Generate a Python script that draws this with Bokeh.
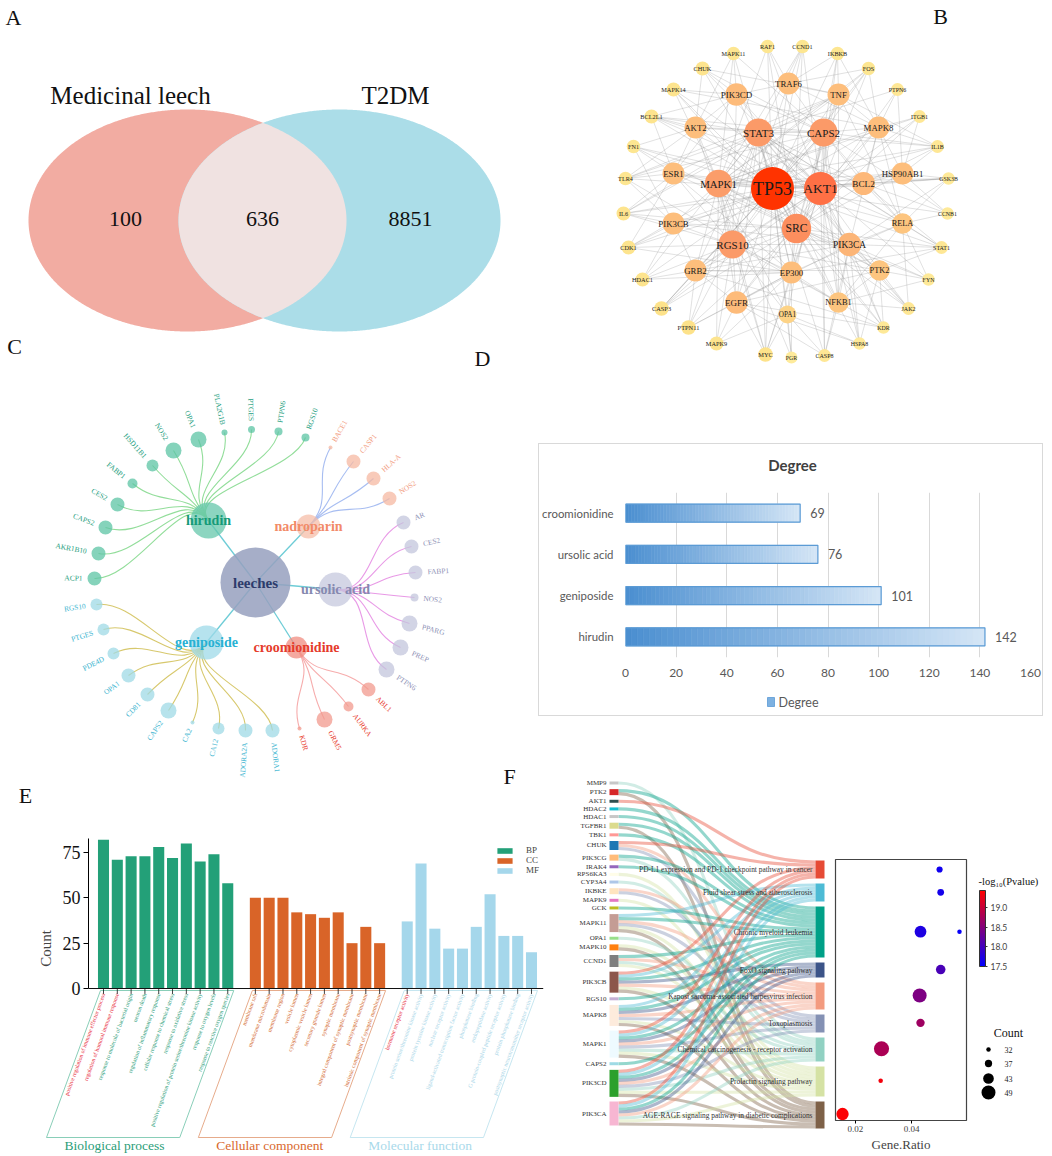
import numpy as np
from bokeh.plotting import figure
from bokeh.models import (Range1d, FactorRange, LinearAxis, Legend, LegendItem,
                          LinearColorMapper, ColorBar, FixedTicker, PrintfTickFormatter)
from bokeh.core.properties import value
from bokeh.embed import file_html
from bokeh.resources import INLINE

SERIF = "Liberation Serif"
SANS = "Lato"

# ======================= DATA =======================
# A - Venn
venn_sets = ["Medicinal leech", "T2DM"]
venn_counts = [100, 636, 8851]          # leech only, shared, T2DM only

# B - PPI network
ppi_nodes = ["RAF1", "CCND1", "MAPK11", "IKBKB", "CHUK", "FOS", "MAPK14", "PTPN6",
             "TRAF6", "PIK3CD", "TNF", "BCL2L1", "ITGB1", "AKT2", "STAT3", "CAPS2",
             "MAPK8", "FN1", "IL1B", "ESR1", "HSP90AB1", "TLR4", "GSK3B", "MAPK1",
             "TP53", "AKT1", "BCL2", "IL6", "CCNB1", "PIK3CB", "SRC", "RELA", "CDK1",
             "STAT1", "RGS10", "PIK3CA", "HDAC1", "FYN", "GRB2", "EP300", "PTK2",
             "CASP3", "JAK2", "EGFR", "NFKB1", "OPA1", "PTPN11", "KDR", "MAPK9",
             "HSPA8", "MYC", "PGR", "CASP8"]
ppi_degree = [18, 18, 18, 18, 19, 18, 19, 17,
              33, 34, 33, 19, 17, 33, 45, 45,
              33, 18, 17, 33, 33, 18, 16, 44,
              60, 52, 35, 19, 16, 33, 47, 31, 19,
              17, 45, 36, 19, 16, 33, 33, 31,
              20, 17, 34, 31, 27, 20, 16, 19,
              16, 20, 15, 17]
ppi_layout_x = [767, 802, 733, 837, 702, 868, 673, 897,
                788, 736, 838, 651, 919, 695, 758, 823,
                878, 633, 937, 673, 902, 625, 948, 718,
                772, 820, 863, 623, 947, 673, 796, 902, 628,
                941, 732, 849, 642, 928, 695, 791, 879,
                661, 908, 736, 838, 787, 688, 883, 716,
                859, 765, 791, 824]
ppi_layout_y = [46, 46, 53, 53, 68, 68, 89, 89,
                83, 94, 94, 116, 116, 127, 132, 132,
                127, 146, 146, 173, 173, 178, 178, 183,
                188, 188, 183, 213, 213, 223, 228, 223, 247,
                247, 244, 244, 279, 279, 270, 272, 270,
                308, 308, 302, 302, 314, 327, 327, 343,
                343, 354, 357, 355]
ppi_links = {
    "TP53": "AKT1 SRC STAT3 CAPS2 MAPK1 RGS10 EP300 ESR1 BCL2 PIK3CA PIK3CB MAPK8 TNF TRAF6 AKT2 GRB2 PTK2 EGFR NFKB1 HSP90AB1 RELA OPA1 RAF1 CCND1 MAPK11 IKBKB CHUK FOS MAPK14 BCL2L1 IL1B IL6 CDK1 CCNB1 STAT1 HDAC1 CASP3 JAK2 MYC CASP8 KDR FN1 GSK3B TLR4 HSPA8 PGR",
    "AKT1": "SRC STAT3 CAPS2 MAPK1 RGS10 PIK3CA PIK3CB PIK3CD MAPK8 TNF ESR1 BCL2 GRB2 EGFR NFKB1 HSP90AB1 RELA EP300 RAF1 CCND1 IKBKB CHUK FOS BCL2L1 GSK3B IL6 CDK1 CASP3 MYC CASP8 KDR PTK2 ITGB1 FN1 MAPK14 HSPA8",
    "SRC": "STAT3 CAPS2 MAPK1 RGS10 PIK3CA PIK3CB PIK3CD EGFR GRB2 PTK2 ESR1 EP300 BCL2 JAK2 FYN PTPN11 PTPN6 ITGB1 KDR FN1 STAT1 MAPK8 HSP90AB1 CASP3 TNF RAF1 MAPK14 IL6",
    "STAT3": "CAPS2 MAPK1 RGS10 EP300 JAK2 STAT1 IL6 EGFR RELA NFKB1 TNF CCND1 MYC BCL2 BCL2L1 PTPN11 PTPN6 FYN HDAC1 ESR1 PIK3CA IL1B TLR4 GRB2 AKT2",
    "CAPS2": "MAPK1 RGS10 CASP3 CASP8 BCL2 BCL2L1 TNF NFKB1 RELA MAPK8 TRAF6 CHUK IKBKB IL1B TLR4 FOS PIK3CD AKT2 HSPA8 MAPK11 CCNB1 CDK1 EP300 OPA1",
    "MAPK1": "RGS10 RAF1 MAPK8 MAPK14 MAPK11 MAPK9 FOS MYC EGFR GRB2 PTK2 EP300 ESR1 CCND1 ITGB1 TNF IL1B PIK3CB PIK3CA GSK3B HSP90AB1 AKT2 PGR OPA1",
    "RGS10": "PIK3CA PIK3CB PIK3CD GRB2 EP300 EGFR NFKB1 OPA1 PTK2 HDAC1 CDK1 CASP3 PTPN11 MAPK9 MYC TRAF6 AKT2 ESR1 IL6",
    "PIK3CA": "PIK3CB PIK3CD EGFR KDR PTK2 GRB2 NFKB1 RELA JAK2 FYN HSPA8 CASP8 STAT1 MAPK8 GSK3B",
    "EP300": "HDAC1 ESR1 MYC NFKB1 RELA PGR STAT1 CCND1 CDK1 OPA1 EGFR GRB2 PTPN11 MAPK9",
    "MAPK8": "TNF FOS IL1B TRAF6 MAPK14 PTPN6 ITGB1 HSP90AB1 BCL2 RELA IKBKB",
    "TNF": "TRAF6 IL1B NFKB1 RELA CHUK IKBKB IL6 TLR4 FOS",
    "PIK3CD": "AKT2 TRAF6 MAPK11 CHUK BCL2L1 ESR1 MAPK14",
    "GRB2": "EGFR PTK2 PTPN11 KDR CASP3 HDAC1 PIK3CB",
    "EGFR": "PTK2 PTPN11 KDR MYC MAPK9 HSPA8 CASP8",
    "NFKB1": "RELA TLR4 CASP8 JAK2 KDR FYN PTK2",
    "BCL2": "BCL2L1 CCNB1 GSK3B IL1B RELA STAT1 HSP90AB1",
    "HSP90AB1": "ITGB1 IL1B GSK3B CCNB1 PTPN6",
    "AKT2": "BCL2L1 FN1 TLR4 CHUK MAPK11 ESR1",
    "ESR1": "FN1 TLR4 IL6 CDK1 BCL2L1",
    "PIK3CB": "IL6 CDK1 TLR4 HDAC1 FN1",
    "RELA": "STAT1 CCNB1 FYN JAK2 GSK3B",
    "PTK2": "FYN JAK2 KDR HSPA8 STAT1",
    "TRAF6": "RAF1 CCND1 IKBKB FOS",
    "OPA1": "MYC PGR CASP8 MAPK9 HSPA8",
}

# C - compound / target tree
tree_root = "leeches"
tree_compounds = ["hirudin", "nadroparin", "ursolic acid", "geniposide", "croomionidine"]
tree_targets = {
    "hirudin": ["RGS10", "PTPN6", "PTGES", "PLA2G1B", "OPA1", "NOS2", "HSD11B1",
                "FABP1", "CES2", "CAPS2", "AKR1B10", "ACP1"],
    "nadroparin": ["BACE1", "CASP1", "HLA-A", "NOS2"],
    "ursolic acid": ["AR", "CES2", "FABP1", "NOS2", "PPARG", "PREP", "PTPN6"],
    "geniposide": ["RGS10", "PTGES", "PDE4D", "OPA1", "CD81", "CAPS2", "CA2", "CA12",
                   "ADORA2A", "ADORA1"],
    "croomionidine": ["ABL1", "AURKA", "GRM5", "KDR"],
}
tree_target_weight = {
    "hirudin": [4, 4, 3.5, 3, 8, 8, 6, 5, 7, 7, 7, 7],
    "nadroparin": [2, 7, 7, 7],
    "ursolic acid": [7, 7, 7, 4, 8, 8, 8],
    "geniposide": [6, 6, 6, 7, 7, 8, 2, 6, 7, 7],
    "croomionidine": [7, 5, 8, 2],
}
tree_layout_root = (255, 582)
tree_layout_comp = {"hirudin": (208, 520), "nadroparin": (308, 526), "ursolic acid": (335, 589),
                    "geniposide": (206, 642), "croomionidine": (296, 647)}
tree_comp_radius = {"hirudin": 18, "nadroparin": 12, "ursolic acid": 17,
                    "geniposide": 17, "croomionidine": 11}
tree_layout_leaf = {
    "hirudin": [(305, 437), (278, 431), (251, 429), (224, 432), (198, 439), (173, 450),
                (152, 465), (132, 483), (117, 504), (105, 527), (98, 553), (94, 578)],
    "nadroparin": [(330, 447), (353, 461), (373, 478), (389, 498)],
    "ursolic acid": [(403, 522), (411, 546), (415, 572), (414, 597), (409, 623),
                     (400, 647), (386, 669)],
    "geniposide": [(96, 604), (103, 629), (113, 653), (128, 675), (147, 694), (168, 710),
                   (192, 722), (218, 728), (245, 730), (272, 730)],
    "croomionidine": [(368, 689), (348, 706), (324, 719), (299, 728)],
}

# D - degree
deg_compounds = ["hirudin", "geniposide", "ursolic acid", "croomionidine"]
deg_values = [142, 101, 76, 69]

# E - GO enrichment
go_bp = ["positive regulation of immune effector process",
         "regulation of humoral immune response",
         "response to molecule of bacterial origin", "neuron death",
         "regulation of inflammatory response", "cellular response to chemical stress",
         "response to oxidative stress",
         "positive regulation of protein serine/threonine kinase activity",
         "response to oxygen levels", "response to reactive oxygen species"]
go_bp_count = [82, 71, 73, 73, 78, 72, 80, 70, 74, 58]
go_cc = ["membrane raft", "membrane microdomain", "membrane region", "vesicle lumen",
         "cytoplasmic vesicle lumen", "secretory granule lumen", "synaptic membrane",
         "integral component of synaptic membrane", "postsynaptic membrane",
         "intrinsic component of synaptic membrane"]
go_cc_count = [50, 50, 50, 42, 41, 39, 42, 25, 34, 25]
go_mf = ["hormone receptor activity", "protein serine/threonine kinase activity",
         "protein tyrosine kinase activity", "nuclear receptor activity",
         "ligand-activated transcription factor activity", "phosphatase binding",
         "endopeptidase activity", "G protein-coupled peptide receptor activity",
         "protein phosphatase binding", "postsynaptic neurotransmitter receptor activity"]
go_mf_count = [37, 69, 33, 22, 22, 34, 52, 29, 29, 20]
go_highlight = ["positive regulation of immune effector process",
                "regulation of humoral immune response", "hormone receptor activity"]
go_groups = ["Biological process", "Cellular component", "Molecular function"]
go_keys = ["BP", "CC", "MF"]

# F - KEGG sankey + bubble
kegg_paths = ["PD-L1 expression and PD-1 checkpoint pathway in cancer",
              "Fluid shear stress and atherosclerosis",
              "Chronic myeloid leukemia",
              "FoxO signaling pathway",
              "Kaposi sarcoma-associated herpesvirus infection",
              "Toxoplasmosis",
              "Chemical carcinogenesis - receptor activation",
              "Prolactin signaling pathway",
              "AGE-RAGE signaling pathway in diabetic complications"]
kegg_short = ["PD-L1", "FSS", "CML", "FoxO", "KSHV", "Toxo", "Chem", "PRL", "AGE"]
sankey_genes = ["MMP9", "PTK2", "AKT1", "HDAC2", "HDAC1", "TGFBR1", "TBK1", "CHUK",
                "PIK3CG", "IRAK4", "RPS6KA3", "CYP3A4", "IKBKE", "MAPK9", "GCK",
                "MAPK11", "OPA1", "MAPK10", "CCND1", "PIK3CB", "RGS10", "MAPK8",
                "MAPK1", "CAPS2", "PIK3CD", "PIK3CA"]
sankey_links = {
    "MMP9": "Chem", "PTK2": "CML AGE", "AKT1": "PD-L1", "HDAC2": "CML", "HDAC1": "CML",
    "TGFBR1": "CML AGE", "TBK1": "CML", "CHUK": "PD-L1 KSHV Toxo", "PIK3CG": "CML Chem",
    "IRAK4": "CML", "RPS6KA3": "PRL", "CYP3A4": "Chem", "IKBKE": "KSHV Toxo",
    "MAPK9": "PRL", "GCK": "CML", "MAPK11": "FSS CML KSHV Toxo PRL AGE", "OPA1": "Chem",
    "MAPK10": "PRL AGE", "CCND1": "CML KSHV Chem PRL",
    "PIK3CB": "PD-L1 FSS CML FoxO KSHV PRL AGE", "RGS10": "CML",
    "MAPK8": "FSS CML FoxO KSHV Toxo PRL AGE",
    "MAPK1": "PD-L1 FSS CML FoxO KSHV Toxo Chem PRL AGE", "CAPS2": "CML",
    "PIK3CD": "PD-L1 FSS CML FoxO KSHV Toxo Chem PRL AGE",
    "PIK3CA": "PD-L1 FSS CML FoxO KSHV Chem PRL AGE",
}
dot_path = ["PD-L1", "FSS", "CML", "FoxO", "KSHV", "Toxo", "Chem", "PRL", "AGE", "CML"]
dot_ratio = [0.0500, 0.0504, 0.0432, 0.0504, 0.0429, 0.0432, 0.0293, 0.0290, 0.0154, 0.0571]
dot_logp = [17.62, 17.65, 17.72, 18.05, 18.45, 18.70, 18.80, 19.35, 19.42, 17.55]
dot_count = [35, 36, 45, 41, 49, 39, 51, 32, 46, 32]
count_legend = [32, 37, 43, 49]

# ======================= HELPERS =======================
def h2r(h):
    return [int(h[i:i + 2], 16) for i in (1, 3, 5)]

def r2h(c):
    return "#%02x%02x%02x" % tuple(int(round(max(0, min(255, v)))) for v in c)

def mix(c1, c2, t):
    a, b = h2r(c1), h2r(c2)
    return r2h([a[i] + (b[i] - a[i]) * t for i in range(3)])

def ramp(v, stops, cols):
    v = min(max(v, stops[0]), stops[-1])
    for i in range(len(stops) - 1):
        if v <= stops[i + 1]:
            return mix(cols[i], cols[i + 1], (v - stops[i]) / (stops[i + 1] - stops[i]))
    return cols[-1]

def absfig(x, y, w, h, extra_styles=None, **kw):
    st = {"position": "absolute", "left": "%dpx" % x, "top": "%dpx" % y}
    if extra_styles:
        st.update(extra_styles)
    p = figure(width=w, height=h, output_backend="svg", toolbar_location=None, title=None,
               styles=st, **kw)
    p.background_fill_color = None
    p.border_fill_color = None
    return p

def letter(p, x, y, s):
    p.text([x], [y], text=[s], text_font=value(SERIF), text_font_size="22px",
           text_align="center", text_baseline="middle", text_color="#111111")

# full page canvas in picture pixel coordinates (y downward)
PW, PH = 1048, 1154
pP = absfig(0, 0, PW, PH, x_range=Range1d(0, PW), y_range=Range1d(PH, 0),
            x_axis_location=None, y_axis_location=None, min_border=0)
pP.xgrid.visible = False
pP.ygrid.visible = False
pP.outline_line_color = None

# ======================= A: Venn =======================
cy, bh = 220, 111
cxa, axa = 187, 159
cxb, axb = 339, 161
t = np.linspace(0, 2 * np.pi, 721)
ea = np.c_[cxa + axa * np.cos(t), cy + bh * np.sin(t)]
eb = np.c_[cxb + axb * np.cos(t), cy + bh * np.sin(t)]
pP.patch(ea[:, 0], ea[:, 1], fill_color="#F2ACA2", line_color=None)
pP.patch(eb[:, 0], eb[:, 1], fill_color="#ABDDE8", line_color=None)
ina = ((eb[:, 0] - cxa) / axa) ** 2 + ((eb[:, 1] - cy) / bh) ** 2 <= 1
inb = ((ea[:, 0] - cxb) / axb) ** 2 + ((ea[:, 1] - cy) / bh) ** 2 <= 1
pts = np.vstack([ea[inb], eb[ina]])
cc = pts.mean(0)
pts = pts[np.argsort(np.arctan2(pts[:, 1] - cc[1], pts[:, 0] - cc[0]))]
pP.patch(pts[:, 0], pts[:, 1], fill_color="#F0E2E1", line_color=None)
pP.text([cxa - 57, cxb + 56], [95, 95], text=venn_sets, text_font=value(SERIF),
        text_font_size="25px", text_align="center", text_baseline="middle", text_color="#111111")
pP.text([125, 262, 410], [cy - 2] * 3, text=[str(v) for v in venn_counts],
        text_font=value(SERIF), text_font_size="22px", text_align="center",
        text_baseline="middle", text_color="#111111")

# ======================= B: network =======================
nid = {n: i for i, n in enumerate(ppi_nodes)}
ex0, ey0, ex1, ey1 = [], [], [], []
seen = set()
for hub, nb in ppi_links.items():
    for n in nb.split():
        k = tuple(sorted((hub, n)))
        if k in seen or n not in nid or hub == n:
            continue
        seen.add(k)
        a, b = nid[hub], nid[n]
        ex0.append(ppi_layout_x[a]); ey0.append(ppi_layout_y[a])
        ex1.append(ppi_layout_x[b]); ey1.append(ppi_layout_y[b])
pP.segment(ex0, ey0, ex1, ey1, line_color="#8f8f8f", line_alpha=0.45, line_width=0.6)
DS = [15, 20, 27, 33, 45, 52, 60]
SZ = [12, 14.5, 18, 22, 28, 33, 43]
FS = [5.8, 6.4, 7.2, 8.8, 11, 13.5, 18]
CL = ["#FEEB9C", "#FDE28A", "#FDD386", "#FDBE7C", "#FB9A68", "#FF7045", "#FF3300"]
order = np.argsort(ppi_degree)
bx = [ppi_layout_x[i] for i in order]
by = [ppi_layout_y[i] for i in order]
bd = [ppi_degree[i] for i in order]
pP.scatter(bx, by, size=[float(np.interp(d, DS, SZ)) for d in bd],
           fill_color=[ramp(d, DS, CL) for d in bd], line_color=None)
pP.text(bx, by, text=[ppi_nodes[i] for i in order],
        text_font_size=["%.1fpx" % np.interp(d, DS, FS) for d in bd],
        text_font=value(SERIF), text_align="center", text_baseline="middle",
        text_color="#1a1a1a")

# ======================= C: tree =======================
RX, RY = tree_layout_root
comp_style = {
    "hirudin": ("#66C7AB", "#86D98F", "#1E9E7E", "#159A78", "#5CC4A4"),
    "nadroparin": ("#F6BDA8", "#9DB6EF", "#F29A7C", "#F28A68", "#F6B8A2"),
    "ursolic acid": ("#C6C8DE", "#E58EE3", "#8D90B5", "#8689B0", "#C3C6DC"),
    "geniposide": ("#9DDAE8", "#D3C25D", "#3CB5D0", "#27B1D3", "#9FD9E6"),
    "croomionidine": ("#F08C80", "#F5A3A3", "#E8392B", "#E53B2C", "#F19A8D"),
}
pP.segment([RX] * 5, [RY] * 5, [tree_layout_comp[c][0] for c in tree_compounds],
           [tree_layout_comp[c][1] for c in tree_compounds], line_color="#5DC6D2",
           line_width=1.3, line_alpha=0.9)
lx_all, ly_all, lr_all, lc_all = [], [], [], []
tl_x, tl_y, tl_t, tl_a, tl_al, tl_c = [], [], [], [], [], []
for c in tree_compounds:
    cx, cyy = tree_layout_comp[c]
    circ_c, edge_c, lab_c, comp_lab_c, leaf_c = comp_style[c]
    rc = np.hypot(cx - RX, cyy - RY)
    tc = np.arctan2(cyy - RY, cx - RX)
    bx0, by0, bx1, by1, bcx0, bcy0, bcx1, bcy1 = [], [], [], [], [], [], [], []
    for leaf, (lx, ly), w in zip(tree_targets[c], tree_layout_leaf[c], tree_target_weight[c]):
        rl = np.hypot(lx - RX, ly - RY)
        tl = np.arctan2(ly - RY, lx - RX)
        rm = (rc + rl) / 2
        bx0.append(cx); by0.append(cyy); bx1.append(lx); by1.append(ly)
        bcx0.append(RX + rm * np.cos(tc)); bcy0.append(RY + rm * np.sin(tc))
        bcx1.append(RX + rm * np.cos(tl)); bcy1.append(RY + rm * np.sin(tl))
        lx_all.append(lx); ly_all.append(ly); lr_all.append(2 * w); lc_all.append(leaf_c)
        ux, uy = np.cos(tl), np.sin(tl)
        tl_x.append(lx + ux * (w + 5)); tl_y.append(ly + uy * (w + 5)); tl_t.append(leaf)
        th = np.arctan2(-(ly - RY), lx - RX)
        if lx - RX >= 0:
            tl_a.append(th); tl_al.append("left")
        else:
            tl_a.append(th + np.pi); tl_al.append("right")
        tl_c.append(lab_c)
    pP.bezier(x0=bx0, y0=by0, x1=bx1, y1=by1, cx0=bcx0, cy0=bcy0, cx1=bcx1, cy1=bcy1,
              line_color=edge_c, line_width=1.1, line_alpha=0.9)
pP.scatter([RX], [RY], size=70, fill_color="#97A0BE", fill_alpha=0.85, line_color=None)
pP.scatter([tree_layout_comp[c][0] for c in tree_compounds],
           [tree_layout_comp[c][1] for c in tree_compounds],
           size=[2 * tree_comp_radius[c] for c in tree_compounds],
           fill_color=[comp_style[c][0] for c in tree_compounds], fill_alpha=0.75,
           line_color=None)
pP.scatter(lx_all, ly_all, size=lr_all, fill_color=lc_all, fill_alpha=0.75, line_color=None)
pP.text(tl_x, tl_y, text=tl_t, angle=tl_a, text_align=tl_al, text_baseline="middle",
        text_color=tl_c, text_font=value(SERIF), text_font_size="7.4px")
pP.text([RX], [RY], text=[tree_root], text_font=value(SERIF), text_font_size="15px",
        text_font_style="bold", text_align="center", text_baseline="middle", text_color="#2D3B6B")
pP.text([tree_layout_comp[c][0] for c in tree_compounds],
        [tree_layout_comp[c][1] for c in tree_compounds], text=tree_compounds,
        text_color=[comp_style[c][3] for c in tree_compounds], text_font=value(SERIF),
        text_font_size="14px", text_font_style="bold", text_align="center",
        text_baseline="middle")

# ======================= D: title + legend drawn on page =======================
pP.text([792], [464], text=["Degree"], text_font=value(SANS), text_font_size="15px",
        text_font_style="bold", text_color="#404040", text_align="center",
        text_baseline="middle")
pP.quad(left=[767], right=[774], top=[697], bottom=[706], fill_color="#7DB1E1",
        line_color="#5B9BD5", line_width=0.8)
pP.text([778], [701.5], text=["Degree"], text_font=value(SANS), text_font_size="12.5px",
        text_color="#595959", text_baseline="middle")

# ======================= E: GO labels / group boxes on page =======================
base_y, ppu = 988, 1.813
s0, pitch = 103, 13.806
groups = [(go_bp, go_bp_count), (go_cc, go_cc_count), (go_mf, go_mf_count)]
bar_cols = ["#23A078", "#D96428", "#A5D7EB"]
lab_cols = ["#2A9D78", "#D3682E", "#A9D6E8"]
box_cols = ["#7CC8B0", "#E3A27E", "#BFE3EE"]
title_cols = ["#2A9D78", "#D9682E", "#A9D9EA"]
group_slots = [[gi * 11 + i for i in range(len(g[0]))] for gi, g in enumerate(groups)]
lab_x, lab_t, lab_c = [], [], []
for gi, (terms, counts) in enumerate(groups):
    for s, t_ in zip(group_slots[gi], terms):
        lab_x.append(s0 + s * pitch)
        lab_t.append(t_)
        lab_c.append("#E8283A" if t_ in go_highlight else lab_cols[gi])
    xl = s0 + group_slots[gi][0] * pitch - 3
    xr = s0 + group_slots[gi][-1] * pitch + 6
    pP.patch([xl, xr, xr - 54, xl - 54], [990, 990, 1137, 1137], fill_color=None,
             line_color=box_cols[gi], line_width=0.9)
    pP.text([xl - 54 + 18], [1145], text=[go_groups[gi]], text_font=value(SERIF),
            text_font_size="13.5px", text_color=title_cols[gi], text_baseline="middle")
pP.text(lab_x, [base_y + 5] * len(lab_x), text=lab_t, angle=np.deg2rad(70),
        text_align="right", text_baseline="middle", text_color=lab_c,
        text_font=value(SERIF), text_font_size="5.8px")

# ======================= F: sankey (page canvas) =======================
path_cols = ["#E64B35", "#4DBBD5", "#00A087", "#3C5488", "#F39B7F", "#8491B4",
             "#91D1C2", "#D5E2A4", "#7E6148"]
gene_cols = ["#C7C7C7", "#D62728", "#2F4F4F", "#17BECF", "#C7C7C7", "#DBDB8D", "#FF9896",
             "#1F77B4", "#FFBB78", "#9467BD", "#FFFDE8", "#AEC7E8", "#FFE4BF", "#E377C2",
             "#BCBD22", "#C49C94", "#98DF8A", "#FF7F0E", "#7F7F7F", "#8C564B", "#C5B0D5",
             "#FDEBDC", "#EEFAFF", "#9EDAE5", "#2CA02C", "#F7B6D2"]
u = 3.0
pidx = {k: i for i, k in enumerate(kegg_short)}
gl = [sorted(pidx[s] for s in sankey_links[g].split()) for g in sankey_genes]
gu = [len(x) for x in gl]
g_top, g_bot = 781, 1125
g_gap = (g_bot - g_top - sum(gu) * u) / (len(sankey_genes) - 1)
gy0 = []
yy = g_top
for n in gu:
    gy0.append(yy); yy += n * u + g_gap
pu = [0] * len(kegg_short)
for x in gl:
    for j in x:
        pu[j] += 1
p_top, p_gap = 860, 5
py0 = []
yy = p_top
for n in pu:
    py0.append(yy); yy += n * u + p_gap
pcenter = [py0[j] + pu[j] * u / 2 for j in range(len(kegg_short))]
pfill = [0] * len(kegg_short)
GX0, GX1, PX0, PX1 = 609, 618, 815, 824
ly0, ly1, lcol = [], [], []
for i, x in enumerate(gl):
    for k, j in enumerate(x):
        ly0.append(gy0[i] + k * u + u / 2)
        ly1.append(py0[j] + pfill[j] * u + u / 2)
        pfill[j] += 1
        lcol.append(path_cols[j])
midx = (GX1 + PX0) / 2
nL = len(ly0)
pP.bezier(x0=[GX1] * nL, y0=ly0, x1=[PX0] * nL, y1=ly1, cx0=[midx] * nL, cy0=ly0,
          cx1=[midx] * nL, cy1=ly1, line_color=lcol, line_width=3.1, line_alpha=0.42)
pP.quad(left=GX0, right=GX1, top=gy0, bottom=[gy0[i] + gu[i] * u for i in range(len(gu))],
        fill_color=gene_cols, line_color=None)
pP.quad(left=PX0, right=PX1, top=py0, bottom=[py0[j] + pu[j] * u for j in range(len(pu))],
        fill_color=path_cols, line_color=None)
pP.text([GX0 - 3] * len(sankey_genes), [gy0[i] + gu[i] * u / 2 for i in range(len(gu))],
        text=sankey_genes, text_align="right", text_baseline="middle",
        text_font=value(SERIF), text_font_size="7px", text_color="#333333")
pP.text([PX0 - 3] * len(kegg_paths), pcenter, text=kegg_paths, text_align="right",
        text_baseline="middle", text_font=value(SERIF), text_font_size="7.4px",
        text_color="#333333")

# bubble legends (page canvas)
cmap = LinearColorMapper(palette=[mix("#0000FF", "#FF0000", i / 255) for i in range(256)],
                         low=17.5, high=19.44)
def bsize(c):
    return 4.5 + (c - 32) * 9.5 / 17
cb = ColorBar(color_mapper=cmap, ticker=FixedTicker(ticks=[17.5, 18.0, 18.5, 19.0]),
              formatter=PrintfTickFormatter(format="%.1f"), width=6, height=76,
              location=(979, PH - 966), padding=0, margin=0,
              major_label_text_font_size="8.5px", major_label_text_font=SANS,
              major_tick_line_color="#333333", major_tick_out=2, major_tick_in=0,
              bar_line_color="#333333", label_standoff=3, background_fill_alpha=0)
pP.add_layout(cb)
pP.text([978], [881], text=["-log\u2081\u2080(Pvalue)"], text_font=value(SERIF),
        text_font_size="10.5px", text_baseline="middle", text_color="#111111")
pP.text([1008], [1032], text=["Count"], text_font=value(SERIF), text_font_size="12px",
        text_align="center", text_baseline="middle", text_color="#111111")
leg_y = [1049, 1063, 1078, 1092]
pP.scatter([988] * 4, leg_y, size=[bsize(c) for c in count_legend], fill_color="black",
           line_color=None)
pP.text([1004] * 4, leg_y, text=[str(c) for c in count_legend], text_font=value(SERIF),
        text_font_size="8px", text_baseline="middle", text_color="#222222")

# panel letters
letter(pP, 13, 17, "A")
letter(pP, 940, 16, "B")
letter(pP, 14, 346, "C")
letter(pP, 482, 358, "D")
letter(pP, 25, 795, "E")
letter(pP, 509, 776, "F")

# ======================= D: degree bars =======================
pD = absfig(538, 443, 505, 273, extra_styles={"border": "1px solid #d9d9d9"},
            x_range=Range1d(0, 160), y_range=FactorRange(factors=deg_compounds),
            min_border_left=85, min_border_right=14, min_border_top=48, min_border_bottom=60)
nseg = 60
sy, sl, sr, sc = [], [], [], []
for cat, v in zip(deg_compounds, deg_values):
    for k in range(nseg):
        sy.append(cat); sl.append(v * k / nseg); sr.append(v * (k + 1) / nseg)
        sc.append(mix("#4A8ED0", "#D5E6F6", (k + 0.5) / nseg))
pD.hbar(y=sy, left=sl, right=sr, height=0.44, fill_color=sc, line_color=sc, line_width=0.6)
pD.hbar(y=deg_compounds, left=0, right=deg_values, height=0.44, fill_color=None,
        line_color="#5B9BD5", line_width=1.2)
pD.text(x=deg_values, y=deg_compounds, text=[str(v) for v in deg_values], x_offset=10,
        text_baseline="middle", text_font=value(SANS), text_font_size="12.5px",
        text_color="#595959")
pD.xaxis.ticker = FixedTicker(ticks=list(range(0, 161, 20)))
for ax in (pD.xaxis, pD.yaxis):
    ax.axis_line_color = None
    ax.major_tick_line_color = None
    ax.minor_tick_line_color = None
    ax.major_label_text_font = SANS
    ax.major_label_text_color = "#595959"
pD.xaxis.major_label_text_font_size = "12px"
pD.yaxis.major_label_text_font_size = "11.4px"
pD.xaxis.major_label_standoff = 5
pD.yaxis.major_label_standoff = 6
pD.xgrid.grid_line_color = "#D9D9D9"
pD.ygrid.grid_line_color = None
pD.outline_line_color = None

# ======================= E: GO bars =======================
EY0, EY1 = 742, 1154
FR_L = 88
pE = absfig(34, EY0, 541, EY1 - EY0, x_range=Range1d(FR_L, 575), y_range=Range1d(EY1, EY0),
            x_axis_location=None, y_axis_location=None, min_border_left=FR_L - 34,
            min_border_right=0, min_border_top=0, min_border_bottom=0)
pE.xgrid.visible = False
pE.ygrid.visible = False
pE.outline_line_color = None
pE.extra_x_ranges = {"slot": Range1d((FR_L - s0) / pitch, (575 - s0) / pitch)}
pE.extra_y_ranges = {"count": Range1d((base_y - EY1) / ppu, (base_y - EY0) / ppu)}
yax = LinearAxis(y_range_name="count", bounds=(0, 83), ticker=FixedTicker(ticks=[0, 25, 50, 75]),
                 axis_label="Count")
yax.major_label_text_font = SERIF
yax.major_label_text_font_size = "18px"
yax.major_label_text_color = "#111111"
yax.axis_label_text_font = SERIF
yax.axis_label_text_font_size = "15px"
yax.axis_label_text_font_style = "normal"
yax.axis_label_standoff = 6
yax.major_tick_out = 5
yax.major_tick_in = 0
yax.minor_tick_line_color = None
yax.major_label_standoff = 3
pE.add_layout(yax, "left")
renderers = []
all_slots = []
for gi, (terms, counts) in enumerate(groups):
    r = pE.vbar(x=group_slots[gi], top=counts, bottom=0, width=0.8, fill_color=bar_cols[gi],
                line_color=None, x_range_name="slot", y_range_name="count")
    renderers.append(r)
    all_slots += group_slots[gi]
pE.segment(x0=[(FR_L - s0) / pitch], y0=[0], x1=[31.85], y1=[0], line_color="#111111",
           line_width=1, x_range_name="slot", y_range_name="count")
pE.segment(x0=all_slots, y0=[0] * len(all_slots), x1=all_slots, y1=[-3] * len(all_slots),
           line_color="#111111", line_width=0.8, x_range_name="slot", y_range_name="count")
legE = Legend(items=[LegendItem(label=k, renderers=[r]) for k, r in zip(go_keys, renderers)],
              location=(407, 279), glyph_width=19, glyph_height=7, label_height=7,
              label_standoff=12, spacing=0, padding=0, margin=0, border_line_color=None,
              background_fill_alpha=0, label_text_font=SERIF, label_text_font_size="9px")
pE.add_layout(legE)

# ======================= F: bubble plot =======================
FB_TOP, FB_BOT = 859, 1121
pFd = absfig(832, EY0, 140, EY1 - EY0, x_range=Range1d(0.0129, 0.0596),
             y_range=Range1d(FB_BOT, FB_TOP), y_axis_location=None, min_border_left=3,
             min_border_right=6, min_border_top=FB_TOP - EY0, min_border_bottom=EY1 - FB_BOT)
pFd.xgrid.visible = False
pFd.ygrid.visible = False
pFd.outline_line_color = "#444444"
pFd.outline_line_width = 1.2
pFd.scatter(x=dot_ratio, y=[pcenter[pidx[k]] for k in dot_path],
            size=[bsize(c) for c in dot_count],
            fill_color=[cmap.palette[int(round((v - 17.5) / (19.44 - 17.5) * 255))] for v in dot_logp],
            line_color=None)
pFd.xaxis.ticker = FixedTicker(ticks=[0.02, 0.04])
pFd.xaxis.axis_label = "Gene.Ratio"
pFd.xaxis.axis_label_text_font = SERIF
pFd.xaxis.axis_label_text_font_size = "13px"
pFd.xaxis.axis_label_text_font_style = "normal"
pFd.xaxis.axis_label_standoff = 2
pFd.xaxis.major_label_text_font = SERIF
pFd.xaxis.major_label_text_font_size = "9px"
pFd.xaxis.major_label_standoff = 2
pFd.xaxis.major_tick_out = 3
pFd.xaxis.major_tick_in = 0
pFd.xaxis.minor_tick_line_color = None
pFd.xaxis.axis_line_color = None

open("out.html", "w").write(file_html([pP, pD, pE, pFd], INLINE))
